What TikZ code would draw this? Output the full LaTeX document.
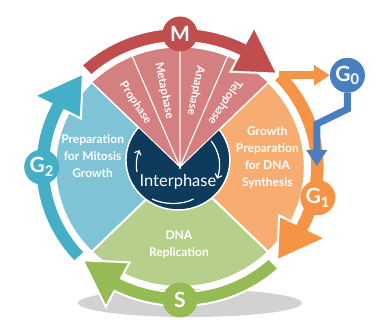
\documentclass[tikz,border=0pt]{standalone}
\usepackage{fontspec}
\setmainfont{Lato}
\usetikzlibrary{arrows.meta}

\definecolor{mlight}{HTML}{D48080}
\definecolor{mdark}{HTML}{C04E4E}
\definecolor{gtwolight}{HTML}{7EC4D6}
\definecolor{gtwodark}{HTML}{46AFC8}
\definecolor{gonelight}{HTML}{F7AD72}
\definecolor{gonedark}{HTML}{F59446}
\definecolor{slight}{HTML}{B6CF8A}
\definecolor{sdark}{HTML}{96BB54}
\definecolor{navy}{HTML}{0E3A5C}
\definecolor{gzeroblue}{HTML}{4A7FBF}

\tikzset{
  segment/.style={draw=white, line width=2pt, line join=round},
  wedge/.style={fill=mlight, draw=white, line width=1pt},
  band/.style={draw=white, line width=2pt, line join=miter},
  phasedot/.style={circle, minimum size=35pt, inner sep=0pt, text=white,
    font=\bfseries\fontsize{21}{21}\selectfont},
  segtext/.style={text=white, align=center, font=\bfseries\fontsize{12}{17}\selectfont},
  wedgetext/.style={text=white, font=\bfseries\fontsize{11.5}{12}\selectfont},
  cyclearrow/.style={white, line width=1.2pt, -{Straight Barb[length=3.5pt,width=7pt]}},
}

\begin{document}
\begin{tikzpicture}[x=1pt,y=1pt]
  \useasboundingbox (0,0) rectangle (374,329);

  \fill[gray!35] (190,26) ellipse[x radius=112, y radius=14];

  \begin{scope}[shift={(180,162)}, xscale=1.04]
    \filldraw[segment, fill=gtwolight] (0,0) -- (135:120) arc[start angle=135, end angle=225, radius=120] -- cycle;
    \filldraw[segment, fill=slight] (0,0) -- (225:120) arc[start angle=225, end angle=315, radius=120] -- cycle;
    \filldraw[segment, fill=gonelight] (0,0) -- (-45:120) arc[start angle=-45, end angle=45, radius=120] -- cycle;
    \filldraw[fill=navy, draw=white, line width=1.5pt] (-2,7) circle[radius=50];

    \filldraw[wedge] (0,0) -- (112.5:120) arc[start angle=112.5, end angle=135, radius=120] -- cycle;
    \filldraw[wedge] (0,0) -- (90:120) arc[start angle=90, end angle=112.5, radius=120] -- cycle;
    \filldraw[wedge] (0,0) -- (67.5:120) arc[start angle=67.5, end angle=90, radius=120] -- cycle;
    \filldraw[wedge] (0,0) -- (45:120) arc[start angle=45, end angle=67.5, radius=120] -- cycle;

    \node[wedgetext, rotate=-56.25] (pro) at (123.75:77) {Prophase};
    \node[wedgetext, rotate=-78.75] (meta) at (101.25:78) {Metaphase};
    \node[wedgetext, rotate=-101.25] (ana) at (78.75:78) {Anaphase};
    \node[wedgetext, rotate=-123.75] (telo) at (56.25:78) {Telophase};

    \node[text=white, font=\fontsize{16.5}{16}\selectfont] (inter) at (-2,-15) {Interphase};
    \draw[cyclearrow] (-2,2) ++(190:40) arc[start angle=190, end angle=158, radius=40];
    \draw[cyclearrow] (-2,2) ++(37:40) arc[start angle=37, end angle=-20, radius=40];
    \draw[white, line width=1.2pt] (-27,-32) .. controls (-15,-38) and (2,-38) .. (13,-32);

    \node[segtext] (gtwotext) at (-84,11) {Preparation\\for Mitosis\\Growth};
    \node[segtext] (gonetext) at (84,9) {Growth\\Preparation\\for DNA\\Synthesis};
    \node[segtext] (stext) at (-1,-78) {DNA\\Replication};

    \filldraw[band, fill=sdark] (313:125) arc[start angle=313, end angle=243, radius=125] -- (243:107) -- (225:132) -- (243:157) -- (243:139) arc[start angle=243, end angle=313, radius=139] -- cycle;
    \filldraw[band, fill=gonedark] (44:125) arc[start angle=44, end angle=-27, radius=125] -- (-27:107) -- (-45:132) -- (-27:157) -- (-27:139) arc[start angle=-27, end angle=44, radius=139] -- cycle;
    \filldraw[band, fill=gtwodark] (223:125) arc[start angle=223, end angle=153, radius=125] -- (153:107) -- (135:132) -- (153:157) -- (153:139) arc[start angle=153, end angle=223, radius=139] -- cycle;

    \coordinate (obranch) at (44:132);
    \node[phasedot, fill=gzeroblue] (gzerodot) at (161,{132*sin(44)}) {G\textsubscript{0}};
    \draw[gonedark, line width=8pt, -{Triangle[length=16pt,width=20pt]}] (obranch) -- (gzerodot);

    \filldraw[band, fill=mdark] (133:125) arc[start angle=133, end angle=63, radius=125] -- (63:107) -- (45:132) -- (63:157) -- (63:139) arc[start angle=63, end angle=133, radius=139] -- cycle;

    \node[phasedot, fill=mdark] (mdot) at (90:133) {M};
    \node[phasedot, fill=gtwodark] (gtwodot) at (180:133) {G\textsubscript{2}};
    \node[phasedot, fill=sdark] (sdot) at (270:133) {S};
    \node[phasedot, fill=gonedark] (gonedot) at (-13:136) {G\textsubscript{1}};

    \coordinate (gonetip) at (131.5,1);
    \draw[gzeroblue, line width=7pt, -{Triangle[length=16pt,width=20pt]}] (gzerodot.south) -- ++(0,-16) -- ([yshift=42pt]gonetip) -- (gonetip);
  \end{scope}
\end{tikzpicture}
\end{document}
